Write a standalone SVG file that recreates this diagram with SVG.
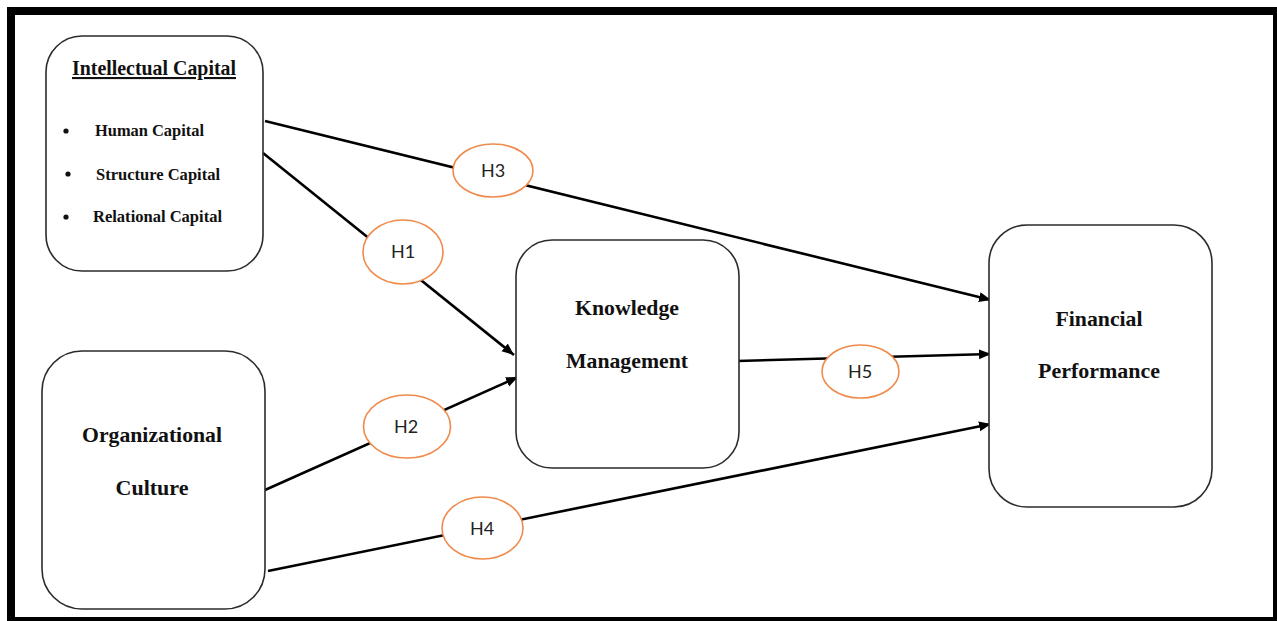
<svg xmlns="http://www.w3.org/2000/svg" width="1277" height="621" viewBox="0 0 1277 621">
<defs>
<style>
.box{fill:#fff;stroke:#2b2b2b;stroke-width:1.6}
.t{font-family:"Liberation Serif","Times New Roman",serif;font-weight:bold;fill:#111;text-anchor:middle}
.s{font-family:"Liberation Serif","Times New Roman",serif;font-weight:bold;fill:#111}
.edge{stroke:#000;stroke-width:2.6;fill:none;marker-end:url(#ah)}
.hyp{fill:#fff;stroke:#F08A4B;stroke-width:1.6}
.h{font-family:Lato,"Open Sans",sans-serif;font-size:18px;fill:#222;text-anchor:middle}
</style>
<marker id="ah" markerUnits="userSpaceOnUse" markerWidth="14" markerHeight="12" refX="12" refY="5" orient="auto">
<path d="M0,0 L12,5 L0,10 Z" fill="#000"/>
</marker>
</defs>
<rect x="0" y="0" width="1277" height="621" fill="#fff"/>
<rect x="11" y="11" width="1266" height="610" fill="#fff" stroke="#000" stroke-width="8"/>
<g id="connectors">
<line class="edge" x1="265" y1="121" x2="991" y2="300"/>
<line class="edge" x1="263" y1="153" x2="514" y2="355"/>
<line class="edge" x1="265" y1="490" x2="518" y2="377"/>
<line class="edge" x1="268" y1="571" x2="991" y2="424"/>
<line class="edge" x1="737" y1="361" x2="991" y2="354"/>
</g>
<g id="intellectual-capital">
<rect class="box" x="46" y="36" width="217" height="235" rx="36" ry="36"/>
<text class="t" x="154" y="75" font-size="21" text-decoration="underline" textLength="164" lengthAdjust="spacingAndGlyphs">Intellectual Capital</text>
<circle cx="66" cy="131" r="2.6" fill="#111"/>
<circle cx="68" cy="174" r="2.6" fill="#111"/>
<circle cx="66" cy="217" r="2.6" fill="#111"/>
<text class="s" x="95" y="136" font-size="17.5" textLength="109" lengthAdjust="spacingAndGlyphs">Human Capital</text>
<text class="s" x="96" y="180" font-size="17.5" textLength="124" lengthAdjust="spacingAndGlyphs">Structure Capital</text>
<text class="s" x="93" y="222" font-size="17.5" textLength="129" lengthAdjust="spacingAndGlyphs">Relational Capital</text>
</g>
<g id="organizational-culture">
<rect class="box" x="42" y="351" width="223" height="258" rx="40" ry="40"/>
<text class="t" x="152" y="442" font-size="22" textLength="140" lengthAdjust="spacingAndGlyphs">Organizational</text>
<text class="t" x="152" y="495" font-size="22" textLength="73" lengthAdjust="spacingAndGlyphs">Culture</text>
</g>
<g id="knowledge-management">
<rect class="box" x="516" y="240" width="223" height="228" rx="36" ry="36"/>
<text class="t" x="627" y="315" font-size="21.5" textLength="104" lengthAdjust="spacingAndGlyphs">Knowledge</text>
<text class="t" x="627" y="368" font-size="21.5" textLength="122" lengthAdjust="spacingAndGlyphs">Management</text>
</g>
<g id="financial-performance">
<rect class="box" x="989" y="225" width="223" height="282" rx="38" ry="38"/>
<text class="t" x="1099" y="326" font-size="21.5" textLength="87" lengthAdjust="spacingAndGlyphs">Financial</text>
<text class="t" x="1099" y="378" font-size="21.5" textLength="122" lengthAdjust="spacingAndGlyphs">Performance</text>
</g>
<g id="h1">
<ellipse class="hyp" cx="403" cy="252" rx="40" ry="32"/>
<text class="h" x="403" y="258">H1</text>
</g>
<g id="h2">
<ellipse class="hyp" cx="407" cy="426.5" rx="43.5" ry="31.5"/>
<text class="h" x="406" y="433">H2</text>
</g>
<g id="h3">
<ellipse class="hyp" cx="493" cy="170.5" rx="40" ry="26.5"/>
<text class="h" x="493" y="177">H3</text>
</g>
<g id="h4">
<ellipse class="hyp" cx="482.5" cy="528" rx="40.5" ry="31"/>
<text class="h" x="482" y="535">H4</text>
</g>
<g id="h5">
<ellipse class="hyp" cx="860.5" cy="371.5" rx="38.5" ry="26.5"/>
<text class="h" x="860" y="378">H5</text>
</g>
</svg>
